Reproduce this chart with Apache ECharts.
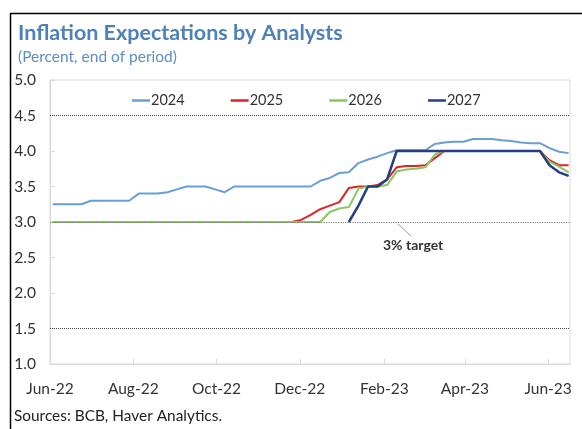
<!DOCTYPE html>
<html>
<head>
<meta charset="utf-8">
<script src="https://cdn.jsdelivr.net/npm/echarts@6/dist/echarts.min.js"></script>
<style>
html,body{margin:0;padding:0;background:#fff;}
#c{width:582px;height:429px;}
</style>
</head>
<body>
<div id="c"></div>
<script>
const seriesNames = ['2024', '2025', '2026', '2027'];
const dates = ['2022-06-03','2022-06-10','2022-06-17','2022-06-24','2022-07-01','2022-07-08','2022-07-15','2022-07-22','2022-07-29','2022-08-05','2022-08-12','2022-08-19','2022-08-26','2022-09-02','2022-09-09','2022-09-16','2022-09-23','2022-09-30','2022-10-07','2022-10-14','2022-10-21','2022-10-28','2022-11-04','2022-11-11','2022-11-18','2022-11-25','2022-12-02','2022-12-09','2022-12-16','2022-12-23','2022-12-30','2023-01-06','2023-01-13','2023-01-20','2023-01-27','2023-02-03','2023-02-10','2023-02-17','2023-02-24','2023-03-03','2023-03-10','2023-03-17','2023-03-24','2023-03-31','2023-04-07','2023-04-14','2023-04-21','2023-04-28','2023-05-05','2023-05-12','2023-05-19','2023-05-26','2023-06-02','2023-06-09','2023-06-16'];
const s2024 = [3.25,3.25,3.25,3.25,3.30,3.30,3.30,3.30,3.30,3.40,3.40,3.40,3.42,3.46,3.50,3.50,3.50,3.46,3.42,3.50,3.50,3.50,3.50,3.50,3.50,3.50,3.50,3.50,3.58,3.62,3.69,3.70,3.83,3.88,3.92,3.97,4.01,4.01,4.01,4.01,4.10,4.12,4.13,4.13,4.17,4.17,4.17,4.15,4.14,4.12,4.11,4.11,4.04,3.99,3.97];
const s2025 = [3.00,3.00,3.00,3.00,3.00,3.00,3.00,3.00,3.00,3.00,3.00,3.00,3.00,3.00,3.00,3.00,3.00,3.00,3.00,3.00,3.00,3.00,3.00,3.00,3.00,3.00,3.03,3.10,3.18,3.23,3.28,3.48,3.50,3.50,3.52,3.60,3.77,3.79,3.79,3.80,3.90,4.00,4.00,4.00,4.00,4.00,4.00,4.00,4.00,4.00,4.00,4.00,3.87,3.80,3.80];
const s2026 = [3.00,3.00,3.00,3.00,3.00,3.00,3.00,3.00,3.00,3.00,3.00,3.00,3.00,3.00,3.00,3.00,3.00,3.00,3.00,3.00,3.00,3.00,3.00,3.00,3.00,3.00,3.00,3.00,3.00,3.14,3.19,3.21,3.47,3.50,3.50,3.52,3.71,3.74,3.75,3.77,3.95,4.00,4.00,4.00,4.00,4.00,4.00,4.00,4.00,4.00,4.00,4.00,3.85,3.78,3.70];
const s2027 = [null,null,null,null,null,null,null,null,null,null,null,null,null,null,null,null,null,null,null,null,null,null,null,null,null,null,null,null,null,null,null,3.00,3.23,3.50,3.50,3.60,4.00,4.00,4.00,4.00,4.00,4.00,4.00,4.00,4.00,4.00,4.00,4.00,4.00,4.00,4.00,4.00,3.80,3.70,3.65];
const tickDates = ['2022-06-01','2022-08-01','2022-10-01','2022-12-01','2023-02-01','2023-04-01','2023-06-01'];
const tickLabels = ['Jun-22','Aug-22','Oct-22','Dec-22','Feb-23','Apr-23','Jun-23'];
const xRange = ['2022-06-01', '2023-06-17'];
const refLines = [4.5, 1.5];
const targetLine = 3.0;

const FONT = 'Lato, "Open Sans", sans-serif';
const colors = ['#6a9fd2', '#d9262c', '#8dc65e', '#233f80'];
const widths = [2, 2, 2, 2.5];
const allValues = [s2024, s2025, s2026, s2027];
const tickTs = tickDates.map(d => Date.parse(d));

function pairs(vals) { return dates.map((d, i) => [Date.parse(d), vals[i]]); }

const series = seriesNames.map((name, i) => ({
  name: name,
  type: 'line',
  data: pairs(allValues[i]),
  showSymbol: false,
  symbol: 'none',
  color: colors[i],
  lineStyle: { width: widths[i], color: colors[i] },
  z: 2 + i,
  animation: false
}));
series[3].markLine = {
  silent: true,
  symbol: 'none',
  label: { show: false },
  animation: false,
  data: refLines.map(v => ({ yAxis: v, lineStyle: { type: 'dotted', color: '#444', width: 1 } }))
    .concat([{ yAxis: targetLine, lineStyle: { type: 'dotted', color: '#777', width: 1.2 } }])
};

const chart = echarts.init(document.getElementById('c'), null, { renderer: 'canvas' });
chart.setOption({
  animation: false,
  backgroundColor: '#fff',
  textStyle: { fontFamily: FONT },
  grid: { left: 50, right: 12, top: 80, bottom: 65, show: true, borderColor: '#d9d9d9', borderWidth: 1 },
  legend: {
    data: seriesNames,
    left: 127, top: 88,
    icon: 'rect', itemWidth: 18, itemHeight: 2.5, itemGap: 46,
    textStyle: { fontSize: 14.5, color: '#333', fontFamily: FONT, padding: [0, 0, 0, -4] }
  },
  xAxis: {
    type: 'value',
    min: Date.parse(xRange[0]), max: Date.parse(xRange[1]),
    axisLine: { lineStyle: { color: '#d9d9d9' } },
    axisTick: { show: true, inside: true, length: 5, customValues: tickTs, lineStyle: { color: '#d9d9d9' } },
    axisLabel: {
      customValues: tickTs,
      fontSize: 15.5, color: '#333', fontFamily: FONT, margin: 17,
      formatter: function (v) {
        let best = 0;
        for (let i = 1; i < tickTs.length; i++) if (Math.abs(tickTs[i] - v) < Math.abs(tickTs[best] - v)) best = i;
        return tickLabels[best];
      }
    },
    splitLine: { show: false }
  },
  yAxis: {
    type: 'value', min: 1, max: 5, interval: 0.5,
    axisLine: { show: true, lineStyle: { color: '#d9d9d9' } },
    axisTick: { show: true, inside: true, length: 5, lineStyle: { color: '#d9d9d9' } },
    axisLabel: { fontSize: 15.5, color: '#333', fontFamily: FONT, margin: 14, formatter: v => v.toFixed(1) },
    splitLine: { show: false }
  },
  graphic: [
    { type: 'polyline', shape: { points: [[10.5, 440], [10.5, 13.5], [600, 13.5]] }, style: { stroke: '#000', lineWidth: 1.5, fill: null }, silent: true },
    { type: 'text', left: 18, top: 22, style: { text: 'Inflation Expectations by Analysts', font: 'bold 21.5px ' + FONT, fill: '#4d81b8' } },
    { type: 'text', left: 18, top: 49, style: { text: '(Percent, end of period)', font: '15.5px ' + FONT, fill: '#5b8fc6' } },
    { type: 'text', left: 14, top: 409, style: { text: 'Sources: BCB, Haver Analytics.', font: '15.4px ' + FONT, fill: '#222' } },
    { type: 'line', shape: { x1: 398, y1: 224, x2: 411, y2: 236 }, style: { stroke: '#999', lineWidth: 1 }, silent: true },
    { type: 'text', left: 383, top: 238, style: { text: '3% target', font: 'bold 14px ' + FONT, fill: '#333' } }
  ],
  series: series
});
</script>
</body>
</html>
